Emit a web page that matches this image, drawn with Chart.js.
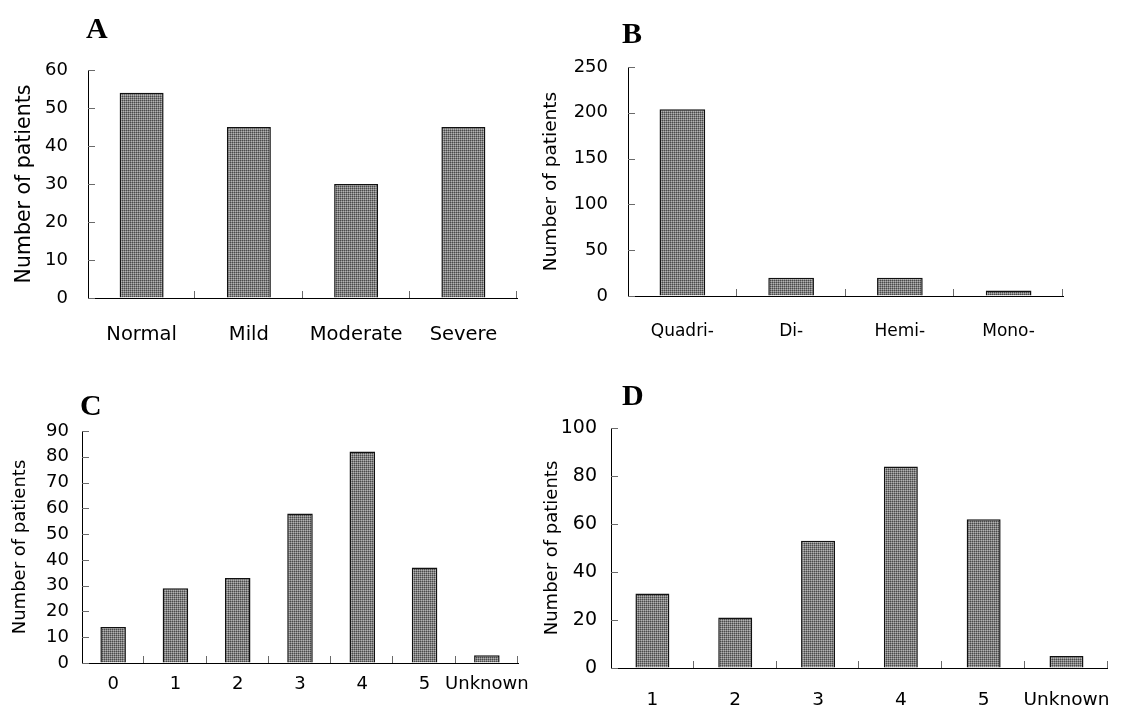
<!DOCTYPE html>
<html>
<head>
<meta charset="utf-8">
<script src="https://cdn.jsdelivr.net/npm/chart.js@4/dist/chart.umd.min.js"></script>
<style>
  html, body { margin: 0; padding: 0; background: #ffffff; }
  body { width: 1131px; height: 710px; position: relative; overflow: hidden; }
  .panel { position: absolute; }
  .panel canvas { display: block; }
</style>
</head>
<body>
<div class="panel" id="pA" style="left:0px;top:0px;width:540px;height:355px;"><canvas id="cA"></canvas></div>
<div class="panel" id="pB" style="left:540px;top:0px;width:591px;height:355px;"><canvas id="cB"></canvas></div>
<div class="panel" id="pC" style="left:0px;top:355px;width:545px;height:355px;"><canvas id="cC"></canvas></div>
<div class="panel" id="pD" style="left:540px;top:355px;width:591px;height:355px;"><canvas id="cD"></canvas></div>
<script>
// ---- data ----
const panelACategories = ['Normal', 'Mild', 'Moderate', 'Severe'];
const panelAValues = [54, 45, 30, 45];
const panelAYTicks = { min: 0, max: 60, step: 10 };

const panelBCategories = ['Quadri-', 'Di-', 'Hemi-', 'Mono-'];
const panelBValues = [204, 20, 20, 6];
const panelBYTicks = { min: 0, max: 250, step: 50 };

const panelCCategories = ['0', '1', '2', '3', '4', '5', 'Unknown'];
const panelCValues = [14, 29, 33, 58, 82, 37, 3];
const panelCYTicks = { min: 0, max: 90, step: 10 };

const panelDCategories = ['1', '2', '3', '4', '5', 'Unknown'];
const panelDValues = [31, 21, 53, 84, 62, 5];
const panelDYTicks = { min: 0, max: 100, step: 20 };

const yAxisTitle = 'Number of patients';

// ---- styling helpers ----
const FONT = '"DejaVu Sans", "Liberation Sans", Arial, sans-serif';

function makePattern() {
  const c = document.createElement('canvas');
  c.width = 2; c.height = 2;
  const g = c.getContext('2d');
  g.fillStyle = '#808080'; g.fillRect(0, 0, 2, 2);
  g.fillStyle = '#4a4a4a'; g.fillRect(0, 0, 1, 1);
  g.fillStyle = '#b2b2b2'; g.fillRect(1, 1, 1, 1);
  return g.createPattern(c, 'repeat');
}
const barFill = makePattern();

const innerTicks = {
  id: 'innerTicks',
  afterDatasetsDraw(chart, args, opts) {
    const { ctx, chartArea: a, scales: { x, y } } = chart;
    ctx.save();
    ctx.strokeStyle = opts.color || '#777';
    ctx.lineWidth = 1;
    ctx.beginPath();
    y.ticks.forEach(t => {
      const py = Math.round(y.getPixelForValue(t.value)) + 0.5;
      ctx.moveTo(a.left, py);
      ctx.lineTo(a.left + opts.len, py);
    });
    const n = x.ticks.length;
    const half = n > 1 ? (x.getPixelForValue(1) - x.getPixelForValue(0)) / 2 : a.width / 2;
    for (let i = 1; i <= n; i++) {
      const px = Math.round(x.getPixelForValue(i - 1) + half) - 0.5;
      ctx.moveTo(px, a.bottom);
      ctx.lineTo(px, a.bottom - opts.len);
    }
    ctx.stroke();
    ctx.restore();
  }
};

const panelLetter = {
  id: 'panelLetter',
  afterDraw(chart, args, opts) {
    const ctx = chart.ctx;
    ctx.save();
    ctx.font = 'bold ' + opts.size + 'px "Liberation Serif", "Times New Roman", serif';
    ctx.fillStyle = '#000';
    ctx.textAlign = 'left';
    ctx.textBaseline = 'alphabetic';
    ctx.fillText(opts.text, opts.x, opts.y);
    ctx.restore();
  }
};

function buildChart(id, cfg) {
  return new Chart(document.getElementById(id), {
    type: 'bar',
    data: {
      labels: cfg.categories,
      datasets: [{
        data: cfg.values,
        backgroundColor: barFill,
        borderColor: '#111111',
        borderWidth: 1.5,
        borderSkipped: 'bottom',
        categoryPercentage: 1.0,
        barPercentage: cfg.barPct
      }]
    },
    plugins: [innerTicks, panelLetter],
    options: {
      responsive: true,
      maintainAspectRatio: false,
      animation: false,
      devicePixelRatio: 1,
      layout: { padding: { top: cfg.padTop, right: cfg.padRight, left: 0, bottom: 0 } },
      plugins: {
        legend: { display: false },
        tooltip: { enabled: false },
        title: { display: false },
        innerTicks: { len: 7, color: '#6a6a6a' },
        panelLetter: { text: cfg.letter, x: cfg.letterX, y: cfg.letterY, size: 30 }
      },
      scales: {
        x: {
          type: 'category',
          offset: true,
          grid: { display: true, drawOnChartArea: false, drawTicks: false },
          border: { display: true, color: '#000', width: 1 },
          ticks: {
            color: '#000',
            padding: cfg.xLabelPad,
            maxRotation: 0,
            autoSkip: false,
            font: { family: FONT, size: cfg.xFont }
          },
          afterFit(scale) { scale.height = cfg.xHeight; }
        },
        y: {
          min: cfg.yTicks.min,
          max: cfg.yTicks.max,
          grid: { display: true, drawOnChartArea: false, drawTicks: false },
          border: { display: true, color: '#000', width: 1 },
          ticks: {
            stepSize: cfg.yTicks.step,
            autoSkip: false,
            color: '#000',
            padding: cfg.yLabelPad,
            font: { family: FONT, size: cfg.yFont }
          },
          title: {
            display: true,
            text: yAxisTitle,
            color: '#000',
            padding: { top: cfg.titlePad, bottom: 0 },
            font: { family: FONT, size: cfg.titleFont }
          },
          afterFit(scale) { scale.width = cfg.yWidth; }
        }
      }
    }
  });
}

buildChart('cA', {
  categories: panelACategories, values: panelAValues, yTicks: panelAYTicks,
  letter: 'A', letterX: 86, letterY: 38,
  padTop: 70, padRight: 23, yWidth: 88, xHeight: 57,
  xLabelPad: 25, yLabelPad: 20, xFont: 19.5, yFont: 18, titleFont: 20.5, titlePad: 12, barPct: 0.41
});
buildChart('cB', {
  categories: panelBCategories, values: panelBValues, yTicks: panelBYTicks,
  letter: 'B', letterX: 82, letterY: 43,
  padTop: 67, padRight: 68, yWidth: 88, xHeight: 59,
  xLabelPad: 25, yLabelPad: 20, xFont: 17, yFont: 18, titleFont: 18.5, titlePad: 0, barPct: 0.42
});
buildChart('cC', {
  categories: panelCCategories, values: panelCValues, yTicks: panelCYTicks,
  letter: 'C', letterX: 80, letterY: 60,
  padTop: 76, padRight: 27, yWidth: 82, xHeight: 47,
  xLabelPad: 11, yLabelPad: 13, xFont: 18, yFont: 18, titleFont: 18, titlePad: 10, barPct: 0.41
});
buildChart('cD', {
  categories: panelDCategories, values: panelDValues, yTicks: panelDYTicks,
  letter: 'D', letterX: 82, letterY: 50,
  padTop: 73, padRight: 7, yWidth: 71, xHeight: 42,
  xLabelPad: 21, yLabelPad: 14, xFont: 18.5, yFont: 19, titleFont: 18, titlePad: 2, barPct: 0.41
});
</script>
</body>
</html>
